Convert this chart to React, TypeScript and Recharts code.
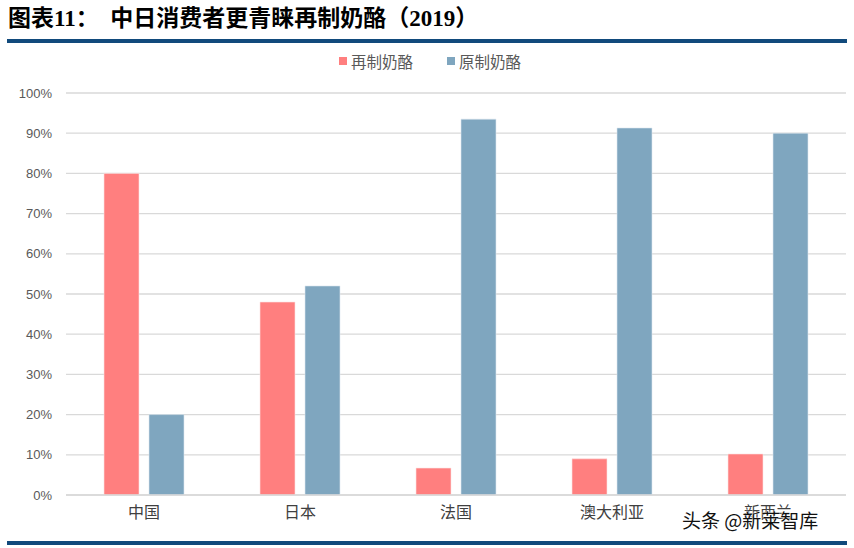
import { BarChart, Bar, XAxis, YAxis, CartesianGrid } from 'recharts'

const countries = ['中国', '日本', '法国', '澳大利亚', '新西兰']
const processedCheese = [80, 48, 6.7, 9, 10.2]
const naturalCheese = [20, 52, 93.5, 91.3, 90]
const yTicks = [0, 10, 20, 30, 40, 50, 60, 70, 80, 90, 100]

const seriesNames = ['再制奶酪', '原制奶酪']
const colors = ['#FF7F7F', '#7FA6BF']

const data = countries.map((name, i) => ({
  name,
  processed: processedCheese[i],
  natural: naturalCheese[i],
}))

const cjk = '"Noto Sans CJK SC", "Noto Sans", sans-serif'

export default function App() {
  return (
    <div style={{ position: 'absolute', left: 0, top: 0, width: 854, height: 548, background: '#fff', overflow: 'hidden' }}>
      <div
        style={{
          position: 'absolute',
          left: 8,
          top: 3,
          fontSize: 23,
          fontWeight: 'bold',
          color: '#000',
          fontFamily: '"Liberation Serif", "Noto Sans CJK SC", serif',
          whiteSpace: 'pre',
          lineHeight: '32px',
        }}
      >
        图表11：  中日消费者更青睐再制奶酪（2019）
      </div>
      <div style={{ position: 'absolute', left: 7, top: 39, width: 840, height: 4, background: '#114a7c' }} />
      <div style={{ position: 'absolute', left: 7, top: 541, width: 840, height: 4, background: '#114a7c' }} />

      <div
        style={{
          position: 'absolute',
          top: 51,
          left: 339,
          display: 'flex',
          gap: 34,
          fontFamily: cjk,
          fontSize: 15.5,
          color: '#595959',
          lineHeight: '20px',
        }}
      >
        {seriesNames.map((n, i) => (
          <div key={n} style={{ display: 'flex', alignItems: 'center' }}>
            <span style={{ display: 'inline-block', width: 8, height: 8, background: colors[i], marginRight: 4 }} />
            {n}
          </div>
        ))}
      </div>

      <div style={{ position: 'absolute', left: 0, top: 0 }}>
        <BarChart
          width={854}
          height={548}
          data={data}
          margin={{ top: 93, right: 8, bottom: 23, left: 0 }}
          barCategoryGap="24%"
          barGap={10}
        >
          <CartesianGrid vertical={false} stroke="#d9d9d9" strokeWidth={1.3} />
          <XAxis
            dataKey="name"
            tickLine={false}
            axisLine={{ stroke: '#d9d9d9', strokeWidth: 1.3 }}
            height={30}
            tick={{ fill: '#404040', fontSize: 16, fontFamily: cjk }}
            tickMargin={6}
          />
          <YAxis
            width={66}
            domain={[0, 100]}
            ticks={yTicks}
            tickFormatter={(v) => `${v}%`}
            tickLine={false}
            axisLine={false}
            tick={{ fill: '#595959', fontSize: 13, fontFamily: '"Liberation Sans", Arial, sans-serif' }}
            tickMargin={8}
          />
          <Bar dataKey="processed" name={seriesNames[0]} fill={colors[0]} stroke="#fbe3e3" strokeWidth={0.6} barSize={35} isAnimationActive={false} />
          <Bar dataKey="natural" name={seriesNames[1]} fill={colors[1]} stroke="#dde8f0" strokeWidth={0.6} barSize={35} isAnimationActive={false} />
        </BarChart>
      </div>

      <div
        style={{
          position: 'absolute',
          left: 682,
          top: 506,
          fontFamily: cjk,
          fontSize: 19,
          color: '#111',
          textShadow: '0 0 2px #fff, 0 0 2px #fff',
          whiteSpace: 'pre',
        }}
      >
        头条 @新莱智库
      </div>
    </div>
  )
}
